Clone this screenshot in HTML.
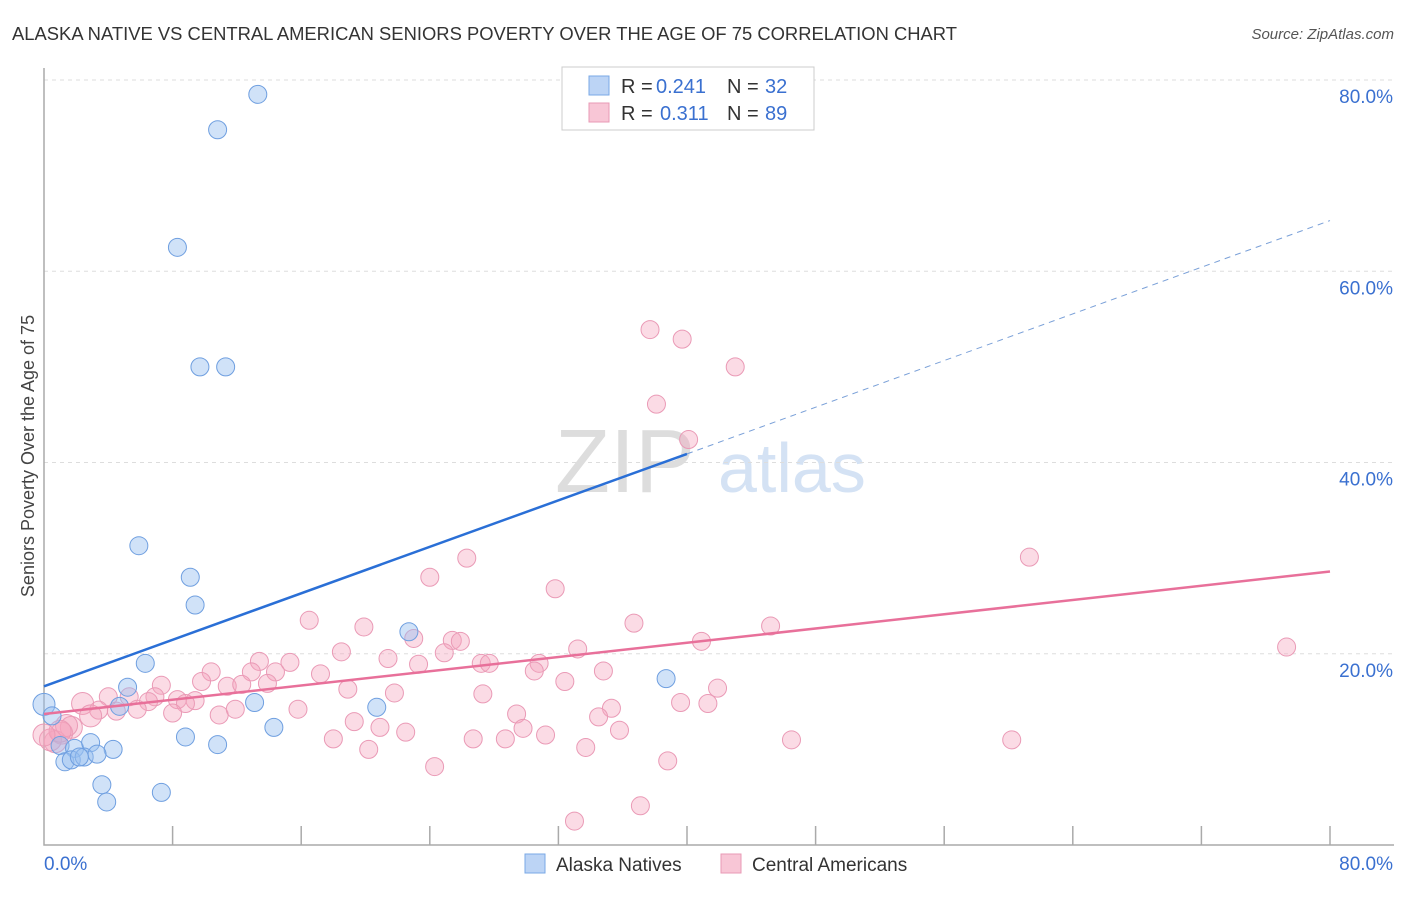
<!DOCTYPE html>
<html><head><meta charset="utf-8"><style>
body{margin:0;background:#fff;font-family:"Liberation Sans",sans-serif;}
svg text{font-family:"Liberation Sans",sans-serif;}
</style></head><body>
<svg id="chart" width="1406" height="892" xmlns="http://www.w3.org/2000/svg">
<text x="12" y="40" font-size="18" fill="#333" textLength="945" lengthAdjust="spacingAndGlyphs">ALASKA NATIVE VS CENTRAL AMERICAN SENIORS POVERTY OVER THE AGE OF 75 CORRELATION CHART</text>
<text x="1394" y="39" font-size="15" fill="#555" text-anchor="end" font-style="italic">Source: ZipAtlas.com</text>
<text transform="translate(34,456) rotate(-90)" font-size="18" fill="#444" text-anchor="middle">Seniors Poverty Over the Age of 75</text>
<g>
<text x="555" y="492" font-size="90" fill="#ddd" font-family="Liberation Serif,serif">ZIP</text>
<text x="718" y="492" font-size="70" fill="#d4e2f4">atlas</text>
</g>
<g id="grid"></g><g id="axes"></g><g id="marks"></g>
<g>
<rect x="562" y="67" width="252" height="63" fill="#fff" stroke="#ccc"/>
<rect x="589" y="76" width="20" height="19" fill="#bcd4f5" stroke="#7aa8e6"/>
<text x="621" y="93" font-size="20" fill="#333">R =</text>
<text x="656" y="93" font-size="20" fill="#3a70d0">0.241</text>
<text x="727" y="93" font-size="20" fill="#333">N =</text>
<text x="765" y="93" font-size="20" fill="#3a70d0">32</text>
<rect x="589" y="103" width="20" height="19" fill="#f8c6d6" stroke="#e89ab5"/>
<text x="621" y="120" font-size="20" fill="#333">R =</text>
<text x="660" y="120" font-size="20" fill="#3a70d0">0.311</text>
<text x="727" y="120" font-size="20" fill="#333">N =</text>
<text x="765" y="120" font-size="20" fill="#3a70d0">89</text>
</g>
<g>
<rect x="525" y="854" width="20" height="19" fill="#bcd4f5" stroke="#7aa8e6"/>
<text x="556" y="871" font-size="19" fill="#333">Alaska Natives</text>
<rect x="721" y="854" width="20" height="19" fill="#f8c6d6" stroke="#e89ab5"/>
<text x="752" y="871" font-size="19" fill="#333">Central Americans</text>
</g>
</svg>
<script>
const yTicks=[20,40,60,80];
const yTickLabels=["20.0%","40.0%","60.0%","80.0%"];
const blueX=[13.3,10.8,8.3,9.7,11.3,5.9,9.1,9.4,6.3,5.2,22.7,38.7,0,0.5,1.0,1.9,2.9,4.3,1.3,1.7,2.5,3.3,3.6,3.9,7.3,8.8,10.8,13.1,14.3,20.7,4.7,2.2];
const blueY=[78.5,74.8,62.5,50.0,50.0,31.3,28.0,25.1,19.0,16.5,22.3,17.4,14.7,13.5,10.4,10.1,10.7,10.0,8.7,8.9,9.2,9.5,6.3,4.5,5.5,11.3,10.5,14.9,12.3,14.4,14.5,9.2];
const pinkX=[37.7,39.7,43.0,38.1,40.1,61.3,77.3,26.3,24.0,31.8,16.5,19.9,23.0,25.4,25.9,36.7,40.9,45.2,33.2,18.5,21.4,24.9,27.2,27.7,30.8,15.3,13.4,23.3,10.4,12.9,14.4,17.2,30.5,34.8,32.4,18.9,9.8,11.4,12.3,13.9,7.3,4.0,5.3,6.9,8.3,9.4,6.5,8.8,2.4,4.5,3.4,5.8,8.0,10.9,11.9,15.8,21.8,27.3,35.3,39.6,41.3,41.9,19.3,20.9,22.5,29.4,29.8,34.5,35.8,31.2,26.7,28.7,18.0,20.2,33.7,46.5,60.2,24.3,38.8,33.0,37.1,2.9,1.7,1.1,0.7,1.4,0.4,1.0,0];
const pinkY=[53.9,52.9,50.0,46.1,42.4,30.1,20.7,30.0,28.0,26.8,23.5,22.8,21.6,21.4,21.3,23.2,21.3,22.9,20.5,20.2,19.5,20.1,19.0,19.0,19.0,19.1,19.2,18.9,18.1,18.1,18.1,17.9,18.2,18.2,17.1,16.3,17.1,16.6,16.8,16.9,16.7,15.5,15.5,15.5,15.2,15.1,15.0,14.8,14.8,14.0,14.1,14.2,13.8,13.6,14.2,14.2,15.9,15.8,14.3,14.9,14.8,16.4,12.9,12.3,11.8,13.7,12.2,13.4,12.0,11.5,11.1,11.1,11.1,10.0,10.2,11.0,11.0,8.2,8.8,2.5,4.1,13.5,12.3,11.7,10.8,12.5,11.0,11.9,11.5];
const blueLine=[16.6,40.9,65.3];
const pinkLine=[13.7,28.6];
const X0=44,X1=1330,Y0=845,Y1=80;
const sx=v=>X0+(X1-X0)*v/80, sy=v=>Y0-(Y0-Y1)*v/80;
const NS="http://www.w3.org/2000/svg";
function mk(parent,tag,attrs){const e=document.createElementNS(NS,tag);for(const k in attrs)e.setAttribute(k,attrs[k]);parent.appendChild(e);return e;}
const grid=document.getElementById('grid'),axes=document.getElementById('axes'),marks=document.getElementById('marks');
yTicks.forEach((t,i)=>{
 const l=mk(grid,'line',{x1:X0,x2:1394,y1:sy(t),y2:sy(t),stroke:'#ddd','stroke-dasharray':'4,4'});
 
 
 const tx=mk(grid,'text',{x:1393,y:sy(t)+23,'font-size':19,fill:'#3a70d0','text-anchor':'end'});tx.textContent=yTickLabels[i];
 
 
});
const ax=mk(axes,'path',{d:`M${X0},68V${Y0}H1394`,stroke:'#aaa',fill:'none','stroke-width':1.5});


for(let i=1;i<=10;i++){const t=mk(axes,'line',{x1:sx(i*8),x2:sx(i*8),y1:826,y2:Y0,stroke:'#aaa','stroke-width':1.5});
 
 }
const xl=mk(axes,'text',{x:44,y:870,'font-size':19,fill:'#3a70d0'});xl.textContent='0.0%';


const xr=mk(axes,'text',{x:1393,y:870,'font-size':19,fill:'#3a70d0','text-anchor':'end'});xr.textContent='80.0%';


pinkX.forEach((x,i)=>{const c=mk(marks,'circle',{cx:sx(x),cy:sy(pinkY[i]),r:x<3?11:9,fill:'rgba(245,165,190,0.4)',stroke:'#ea9ab6','stroke-width':1});
 
 });
blueX.forEach((x,i)=>{const c=mk(marks,'circle',{cx:sx(x),cy:sy(blueY[i]),r:x===0?11:9,fill:'rgba(150,190,240,0.45)',stroke:'#6f9fe0','stroke-width':1});
 
 });
const bl=mk(marks,'line',{x1:sx(0),y1:sy(blueLine[0]),x2:sx(40),y2:sy(blueLine[1]),stroke:'#2a6fd6','stroke-width':2.5});


const bd=mk(marks,'line',{x1:sx(40),y1:sy(blueLine[1]),x2:sx(80),y2:sy(blueLine[2]),stroke:'#7aa0d8','stroke-width':1,'stroke-dasharray':'6,5'});


const pl=mk(marks,'line',{x1:sx(0),y1:sy(pinkLine[0]),x2:sx(80),y2:sy(pinkLine[1]),stroke:'#e8709a','stroke-width':2.5});


</script>
</body></html>
